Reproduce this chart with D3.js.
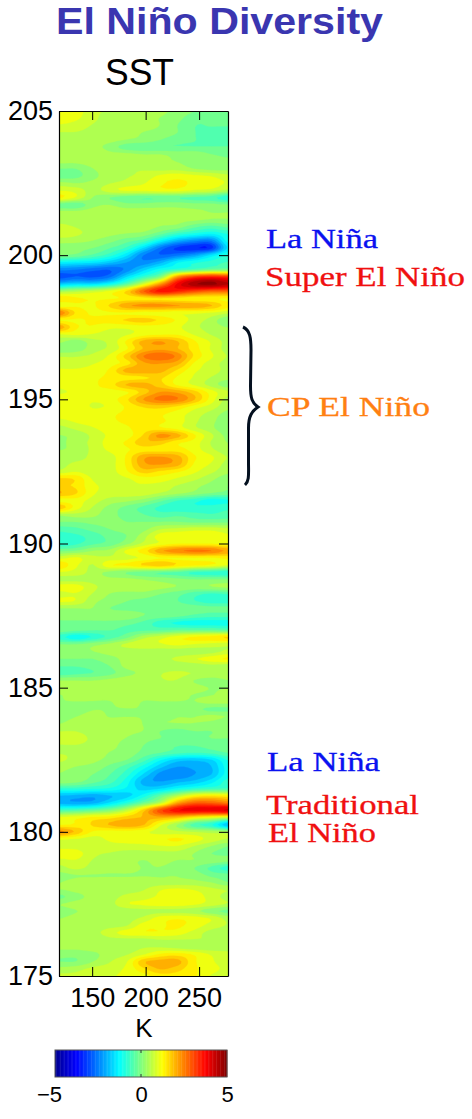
<!DOCTYPE html>
<html><head><meta charset="utf-8">
<style>html,body{margin:0;padding:0;background:#fff}svg{display:block}</style>
<script src="https://cdn.jsdelivr.net/npm/d3@7"></script></head><body><svg id="c" width="472" height="1119"></svg>
<script>
const titleText = "El Niño Diversity";
const panelTitle = "SST";
const xLabel = "K";
const xTicks = [150, 200, 250];
const yTicks = [175, 180, 185, 190, 195, 200, 205];
const cbTicks = [-5, 0, 5];
const lonDomain = [119, 277];
const yearDomain = [175, 205];
const cbDomain = [-5, 5];
const lons = d3.range(11).map(i => lonDomain[0] + i * 15.8);
const years = d3.range(121).map(i => 205 - i * 0.25);
// SST anomaly: one row per quarter unit of the vertical axis, top to bottom
const sst = [
[1.1,1.1,.7,.6,.5,.5,.4,.2,0,-.2,-.1],
[1.1,1,.7,.5,.5,.4,.3,.1,-.2,-.3,-.2],
[.9,.8,.6,.5,.4,.4,.3,0,-.3,-.3,-.3],
[.6,.6,.5,.4,.4,.3,.2,0,-.3,-.4,-.4],
[.4,.4,.4,.4,.3,.2,0,-.2,-.3,-.4,-.4],
[.4,.4,.4,.2,-.2,-.3,-.3,-.3,-.3,-.3,-.3],
[.5,.5,.5,.4,.4,.3,.3,.2,.2,0,-.1],
[.4,.4,.5,.5,.5,.5,.4,.3,.2,.2,.1],
[0,0,.3,.5,.6,.6,.5,.5,.3,.2,.2],
[-.2,-.1,.2,.5,.6,.7,1,1.1,1,.9,.7],
[.4,.3,.4,.6,.7,.9,1.2,1.3,1.2,1.1,.9],
[.9,.8,.5,.8,1,1,1.1,1.1,.9,.8,.5],
[1.3,.9,.3,0,-.2,-.3,-.3,-.3,-.4,-.5,-.9],
[-.2,-.3,.2,.3,.1,.1,.2,.2,.1,.1,0],
[.4,.4,.5,.5,.5,.5,.4,.4,.4,.3,.3],
[.5,.5,.6,.5,.5,.5,.4,.4,.4,.3,.3],
[.7,.6,.5,.5,.5,.5,.3,.2,-.2,-.4,-.2],
[.9,.7,.5,.4,.3,.2,-.2,-.7,-1,-1.2,-.9],
[.4,.4,.3,.1,-.2,-.5,-1.3,-2,-2.4,-2.5,-1.1],
[.2,.1,0,-.3,-.7,-1.6,-2.6,-3.2,-3.4,-3.3,-1.5],
[0,-.1,-.4,-.8,-1.5,-2.5,-2.8,-2.6,-2.2,-1.5,-.9],
[-1.3,-1.4,-1.5,-1.8,-2.2,-2.4,-2,-1.3,-1,-.8,-.6],
[-2.4,-2.5,-2.7,-2.8,-2.4,-1.7,-1.1,-.8,-.5,-.2,-.1],
[-3,-2.8,-2.9,-2.6,-1.6,-.8,0,2.2,3.1,3.4,3.2],
[-1.8,-1.6,-1.6,-1.2,-.4,.8,2.2,3.8,4.6,4.8,4.4],
[.3,.5,.7,1,1.6,2.8,3.6,3.4,3,2.7,2.7],
[1.5,1.3,1.2,1.2,1.3,1.4,1.5,1.4,1.3,1.3,1.2],
[1,1.2,1.2,1.6,2.1,2.3,2.3,2.2,2.1,1.9,1.4],
[2.5,1.5,1.2,1.2,1.2,1.1,1.1,1,1,.9,.7],
[1.2,1.2,1.3,1.4,1.6,1.7,1.5,1.2,.8,.5,0],
[2.1,1.3,1.2,1,1,1.1,1.1,1,.7,.5,.3],
[.9,1,.9,.8,.9,1.1,1.2,1.2,.9,.6,.4],
[.4,.1,.5,.7,1.3,2,2.2,1.9,1.3,.9,.5],
[0,.1,.5,.7,1.2,1.9,2.1,1.9,1.4,.9,.5],
[.6,.6,.7,1,1.7,2.5,2.8,2.4,1.5,1,.6],
[.7,.7,.9,1.1,1.4,2.1,2.2,2,1.2,.8,.5],
[1,1,1.1,1.3,2,2.1,2,1.5,1,.8,.5],
[1.1,1.1,1.2,1.3,1.4,1.5,1.6,1.2,.9,.6,.4],
[1,1.1,1.2,1.4,1.9,2,1.7,1.2,.9,.5,.1],
[.9,1,1.2,1.1,1.2,1.7,2.2,2.1,1.7,1.1,.7],
[1.1,1.1,1,1.1,1.5,2.2,2.6,2.5,1.9,1.1,.5],
[1.2,1.2,.9,1,1.3,1.6,1.7,1.5,1.1,.8,.4],
[1.2,1.2,1.1,1.2,1.3,1.4,1.3,1.1,.8,.5,.2],
[.8,1,1.1,1.2,1.3,1.4,1.3,1.1,.7,.4,.1],
[.5,.7,.9,1.1,1.2,1.4,1.3,1.1,.7,.4,0],
[.3,.4,.7,1,1.1,1.6,2.3,2,1.3,.7,.2],
[.2,.5,.7,1.1,1.3,1.8,1.7,1.3,1.1,.6,.3],
[.3,.4,.7,1,1.2,1.4,1.4,1.4,1.1,.7,.4],
[.5,.5,.7,.8,1.3,2.1,2.2,2,1.3,1,.6],
[.5,.7,.7,.8,1.3,2.1,2.2,2,1.2,.9,.5],
[.7,.9,.7,.8,1.2,1.7,1.5,1.3,1,.7,.4],
[1.6,1.5,.9,.8,.9,1.1,1.1,.9,.7,.4,.1],
[1.6,1.5,1,.9,.9,.9,.8,.6,.4,.2,0],
[1.9,1.6,1,.8,.8,.8,.6,.4,.2,0,-.1],
[1.1,1.1,.8,.5,.4,.2,-.2,-.6,-.8,-1.1,-1],
[1.8,1.1,.6,.2,-.1,-.4,-.7,-.9,-.9,-.8,-.7],
[.4,.5,.4,.1,-.1,-.3,-.5,-.4,-.5,-.6,-.5],
[0,0,.1,.1,0,0,0,0,-.1,-.1,-.1],
[-.5,-.4,-.2,0,.1,.2,.6,.7,.8,.8,.7],
[-.8,-.7,-.5,-.2,0,.5,1.1,1.2,1.2,1.2,1],
[-.9,-.7,-.4,-.2,.2,.7,1,1.2,1.2,1.2,1.1],
[-.1,0,.3,.4,1,1.4,2.1,2.4,2.6,2.5,2.1],
[.8,1,.7,.7,.8,1,1.2,1.2,1.2,1.2,1.3],
[1.5,1,.6,1.2,1.3,1.6,1.8,1.5,1.3,1.2,.9],
[.9,.8,.5,.2,0,-.2,-.3,-.4,-.7,-.8,-.9],
[.5,.5,.5,.4,.4,.3,.2,.1,0,0,0],
[1.1,1.1,.7,.5,.5,.5,.4,.3,.2,.3,.4],
[.8,.9,.6,.3,.2,.2,0,-.2,-.5,-.7,-.6],
[1,.9,.4,.2,0,-.1,-.2,-.3,-.6,-.8,-.8],
[.3,.3,.3,0,-.1,-.1,-.1,-.1,-.1,-.2,-.2],
[.2,.2,.2,.2,.2,0,-.1,-.2,-.4,-.5,-.5],
[-.1,-.1,-.1,-.1,-.2,-.4,-.8,-1,-1.1,-1.1,-1.1],
[-.1,-.2,-.3,-.3,-.4,-.4,-.4,-.3,-.3,-.3,-.4],
[-.8,-1.2,-.9,-.5,-.1,.5,.8,1.1,1.3,1.4,1.6],
[0,0,.2,.4,.7,.9,.9,1,.9,.8,.7],
[.2,.2,.3,.4,.4,.4,.4,.4,.4,.5,.7],
[0,0,0,.2,.4,.5,.5,.7,.9,1.1,1.3],
[-.3,-.3,-.2,0,.4,.4,.4,.4,.4,.5,.4],
[-.5,-.4,-.3,-.1,.2,.4,.6,.7,.6,.5,.5],
[.3,.3,.3,.4,.5,.5,.6,.6,.3,.2,.3],
[.4,.4,.4,.5,.5,.5,.5,.5,.4,.3,.3],
[.3,.4,.4,.4,.4,.4,.4,.4,.3,.3,.4],
[.3,.3,.3,.3,.4,.3,.3,.3,.3,.4,.4],
[.2,.2,.3,.3,.3,.3,.2,.2,.1,-.1,-.1],
[.1,.3,.4,.3,.3,.3,.2,.3,.3,.4,.3],
[.3,.5,.4,.4,.5,.3,.3,.3,.3,.2,0],
[.6,.6,.4,.4,.4,.3,0,-.1,0,0,.1],
[.8,.9,.5,.4,.3,.1,0,-.1,-.1,0,0],
[.6,.6,.5,.4,.2,0,-.2,-.3,-.3,-.2,-.1],
[.6,.6,.5,.3,.2,-.1,-.3,-.5,-.6,-.5,-.3],
[.7,.5,.4,.2,0,-.5,-1.2,-1.7,-1.8,-1.6,-.9],
[.4,.3,.2,-.1,-.5,-1.1,-1.8,-2.2,-2.1,-1.9,-1.1],
[.3,.2,0,-.3,-.8,-1.6,-2.3,-2.5,-2.2,-1.9,-1.1],
[.2,.1,-.2,-.5,-1.1,-2,-2.2,-2,-1.8,-1.4,-.8],
[-.8,-.8,-.9,-1,-1.3,-1.7,-1.6,-1.2,-.9,-.7,-.6],
[-1.9,-2,-2.1,-1.9,-1.7,-1.1,-.3,.5,1.2,1.4,1.3],
[-2,-2.1,-2,-1.5,-.9,-.2,.6,2.1,2.8,2.8,2.5],
[-.6,-.5,-.3,0,.6,1.7,3,3.7,3.9,3.9,4.1],
[1,1.1,1.3,1.4,1.7,1.9,2,1.8,1.3,1,.7],
[1.2,1.3,1.6,1.9,2.1,1.9,1,.3,-.5,-.9,-1.9],
[2.3,1.8,1.2,1.1,1.1,1,.8,.7,.6,.5,.4],
[1,.9,.8,1,1.1,1.2,1.2,1.3,1.1,.8,.6],
[.8,.8,.7,.8,.8,.8,.9,.9,.6,.3,0],
[1.2,1.1,.7,.6,.5,.5,.5,.5,.3,0,-.1],
[.8,.9,.6,.5,.4,.3,.4,.3,.3,.2,.1],
[.5,.7,.5,.4,.4,.3,.3,.2,0,-.4,-.8],
[.2,.3,.3,.3,.3,.3,.3,.3,.2,-.1,-.2],
[.3,.4,.4,.4,.4,.4,.4,.4,.4,.3,0],
[.3,.4,.4,.5,.5,.6,.9,1,.9,.7,.6],
[-.1,.2,.4,.5,.7,.8,1,1.1,1.1,.8,.5],
[.3,.4,.4,.5,.9,1,1.1,1.1,1,.8,.6],
[.2,.3,.4,.4,.4,.5,.5,.5,.4,.1,-.1],
[.3,.4,.5,.5,.5,.7,1.1,1.2,1.1,.9,.5],
[.4,.5,.5,.5,.6,1.1,1.2,1.3,1.1,.8,.6],
[.4,.4,.5,.8,1.1,1.2,1.2,1.1,.8,.5,.4],
[.4,.4,.4,.5,.5,.5,.6,.6,.6,.6,.5],
[.4,.4,.5,.5,.5,.6,.6,.5,.4,.4,.5],
[.1,.1,.2,.5,.6,.9,1.3,1.4,1.2,.9,.7],
[0,0,.3,.6,.9,1.8,2,2,1.3,1,.7],
[.4,.5,.7,.8,1,1.5,1.9,1.7,1.3,1.1,.8],
[.7,.7,.8,.9,1,1.1,1.4,1.4,1.3,.9,.7]
];
const annotations = [
 {t:"La Niña", x:266, y:248, w:112, c:"#0a12f0"},
 {t:"Super El Niño", x:265, y:286, w:200, c:"#f01010"},
 {t:"CP El Niño", x:267, y:416, w:163, c:"#ff8012"},
 {t:"La Niña", x:267, y:771, w:113, c:"#0a12f0"},
 {t:"Traditional", x:266, y:814, w:153, c:"#f01010"},
 {t:"El Niño", x:268, y:842, w:108, c:"#f01010"}
];

const svg = d3.select("#c");
const sans = "'Liberation Sans',Arial,sans-serif";
const x = d3.scaleLinear().domain(lonDomain).range([59, 228]);
const y = d3.scaleLinear().domain(yearDomain).range([976, 111]);
const cbX = d3.scaleLinear().domain(cbDomain).range([55, 227]);
// jet colour ramp
const jet = d3.scaleLinear()
  .domain([-5, -3.75, -1.25, 1.25, 3.75, 5])
  .range(["#00008f", "#0000ff", "#00ffff", "#ffff00", "#ff0000", "#800000"])
  .clamp(true);

// refine the read grid with Catmull-Rom for contouring
function cr(a, b, c, d, t) {
  return 0.5 * (2*b + (c-a)*t + (2*a-5*b+4*c-d)*t*t + (3*b-a-3*c+d)*t*t*t);
}
const fx = 5, fy = 4;
const nr = sst.length, nc = lons.length;
const at = (r, c) => sst[Math.max(0, Math.min(nr-1, r))][Math.max(0, Math.min(nc-1, c))];
const sample = (u, v) => {
  const c0 = Math.floor(u), r0 = Math.floor(v), tu = u-c0, tv = v-r0, vals = [];
  for (let r = r0-1; r <= r0+2; r++)
    vals.push(cr(at(r,c0-1), at(r,c0), at(r,c0+1), at(r,c0+2), tu));
  return cr(vals[0], vals[1], vals[2], vals[3], tv);
};
const W = (nc-1)*fx + 1 + 4, H = (nr-1)*fy + 1 + 4;
const field = new Float64Array(W*H);
for (let j = 0; j < H; j++) for (let i = 0; i < W; i++) {
  const u = Math.max(0, Math.min(nc-1, (i-2)/fx));
  const v = Math.max(0, Math.min(nr-1, (j-2)/fy));
  field[j*W+i] = sample(u, v);
}
const step = 10/32;
const thresholds = d3.range(33).map(k => -5 + k*step);
const contours = d3.contours().size([W, H]).thresholds(thresholds).smooth(true)(field);
const lonStep = lons[1]-lons[0], yearStep = years[0]-years[1];
const project = d3.geoTransform({point(px, py) {
  const lon = lons[0] + (px-2.5)/fx*lonStep;
  const yr = years[0] - (py-2.5)/fy*yearStep;
  this.stream.point(x(lon), y(yr));
}});
const path = d3.geoPath(project);
svg.append("clipPath").attr("id","plot").append("rect")
  .attr("x",x.range()[0]).attr("y",y.range()[1])
  .attr("width",x.range()[1]-x.range()[0]).attr("height",y.range()[0]-y.range()[1]);
const gMap = svg.append("g").attr("clip-path","url(#plot)");
gMap.append("rect").attr("x",59).attr("y",111).attr("width",169).attr("height",865).attr("fill",jet(0.3));
gMap.selectAll("path").data(contours).join("path")
  .attr("d", path)
  .attr("fill", d => jet(d.value + step/2))
  .attr("stroke", d => jet(d.value + step/2)).attr("stroke-width",0.3);

// frame and axes
function style(g, size) {
  g.select(".domain").attr("stroke","#000").attr("stroke-width",1.2);
  g.selectAll(".tick line").attr("stroke","#000").attr("stroke-width",1);
  g.selectAll("text").attr("font-family",sans).attr("font-size",size).attr("fill","#000");
}
const gl = svg.append("g").attr("transform","translate(59,0)")
  .call(d3.axisLeft(y).tickValues(yTicks).tickFormat(d3.format("d")).tickSize(-9).tickSizeOuter(0).tickPadding(6));
style(gl, 27); gl.selectAll("text").attr("dy","0.32em").attr("x",-6);
const gr = svg.append("g").attr("transform","translate(228,0)")
  .call(d3.axisRight(y).tickValues(yTicks).tickFormat("").tickSize(-9).tickSizeOuter(0));
style(gr, 27);
const gb = svg.append("g").attr("transform","translate(0,976)")
  .call(d3.axisBottom(x).tickValues(xTicks).tickFormat(d3.format("d")).tickSize(-9).tickSizeOuter(0));
style(gb, 27); gb.selectAll("text").attr("y",31).attr("dy",0);
const gt = svg.append("g").attr("transform","translate(0,111)")
  .call(d3.axisTop(x).tickValues(xTicks).tickFormat("").tickSize(-9).tickSizeOuter(0));
style(gt, 27);

// titles
svg.append("text").attr("x",56).attr("y",33.5).attr("font-family",sans).attr("font-weight",700)
  .attr("font-size",37).attr("fill","#3a36b0").attr("textLength",327).attr("lengthAdjust","spacingAndGlyphs").text(titleText);
svg.append("text").attr("x",105).attr("y",85).attr("font-family",sans)
  .attr("font-size",36).attr("fill","#000").attr("textLength",69).attr("lengthAdjust","spacingAndGlyphs").text(panelTitle);
svg.append("text").attr("x",144).attr("y",1037).attr("text-anchor","middle").attr("font-family",sans)
  .attr("font-size",26).attr("fill","#000").text(xLabel);

// annotations
svg.selectAll(".ann").data(annotations).join("text").attr("class","ann")
  .attr("x",d=>d.x).attr("y",d=>d.y).attr("fill",d=>d.c)
  .attr("font-family","'Liberation Serif',serif").attr("font-size",27)
  .attr("stroke",d=>d.c).attr("stroke-width",0.3)
  .attr("textLength",d=>d.w).attr("lengthAdjust","spacingAndGlyphs").text(d=>d.t);

// brace
svg.append("path")
  .attr("d","M243,327 C250,330 251,338 251,350 L250.5,386 C250.5,398 252,403 258,407 C252,411 248.5,416 248.5,428 L248.5,462 C248.5,474 249.5,481 245,485")
  .attr("fill","none").attr("stroke","#04101f").attr("stroke-width",3);

// colour bar
const cbN = 128;
const cbLevels = d3.range(cbN).map(k => -5 + (k+0.5)*10/cbN);
svg.selectAll(".cb").data(cbLevels).join("rect").attr("class","cb")
  .attr("x",d=>cbX(d-5/cbN)).attr("y",1050).attr("width",172/cbN+0.4).attr("height",27)
  .attr("fill",d=>jet(d));
svg.append("rect").attr("x",55).attr("y",1050).attr("width",172).attr("height",27)
  .attr("fill","none").attr("stroke","#555").attr("stroke-width",1);
const gc = svg.append("g").attr("transform","translate(0,1077)")
  .call(d3.axisBottom(cbX).tickValues(cbTicks).tickFormat(d => d<0 ? "\u2212"+Math.abs(d) : d).tickSize(0).tickSizeOuter(0));
gc.select(".domain").remove();
gc.selectAll("text").attr("font-family",sans).attr("font-size",22).attr("fill","#000").attr("y",25).attr("dy",0)
  .attr("dx",d=>d<0?-6:0);
svg.selectAll(".cbt").data([0]).join("path").attr("class","cbt")
  .attr("d",d=>`M${cbX(d)},1050v3M${cbX(d)},1077v-3`).attr("stroke","#333");
</script></body></html>
